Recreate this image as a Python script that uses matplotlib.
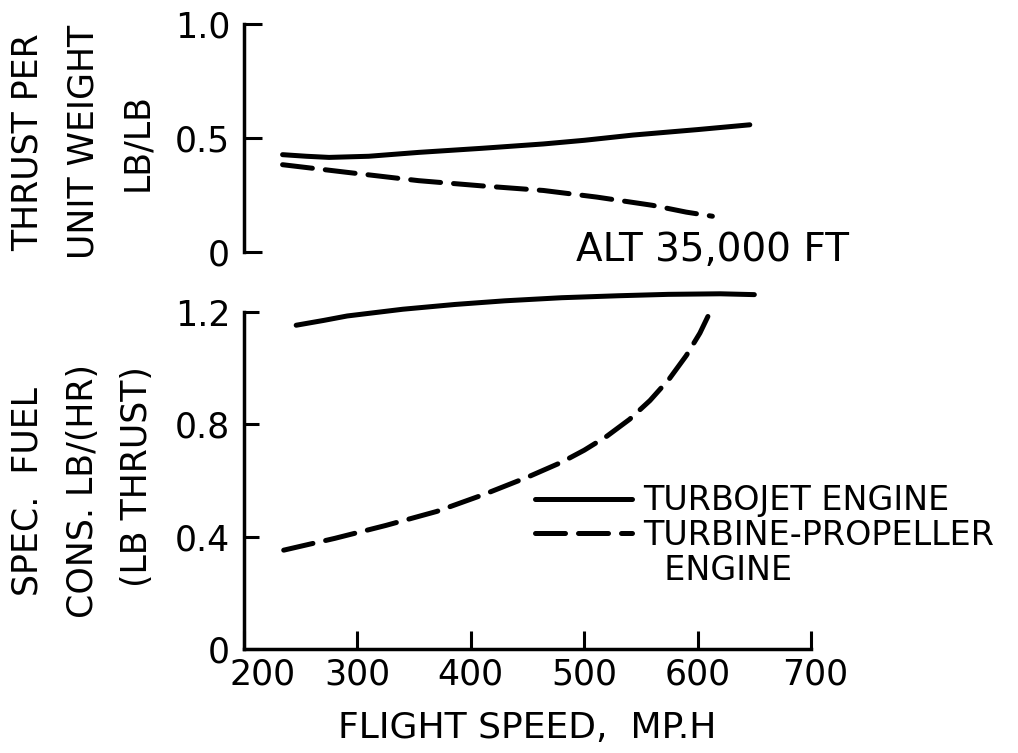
import numpy as np
import matplotlib
matplotlib.use('Agg')
import matplotlib.pyplot as plt
from matplotlib.transforms import ScaledTranslation

#%% values (speed in mph)
speed_jet_thrust = [234, 255, 275, 310, 354, 410, 464, 500, 543, 600, 646]
thrust_jet = [0.427, 0.420, 0.415, 0.420, 0.437, 0.455, 0.474, 0.490, 0.513, 0.537, 0.558]

speed_prop_thrust = [234, 290, 354, 410, 464, 511, 560, 590, 613]
thrust_prop = [0.383, 0.350, 0.313, 0.290, 0.270, 0.241, 0.205, 0.175, 0.157]

speed_jet_sfc = [246, 270, 291, 340, 386, 430, 480, 530, 574, 620, 650]
sfc_jet = [1.153, 1.170, 1.186, 1.210, 1.227, 1.240, 1.251, 1.258, 1.263, 1.265, 1.262]

speed_prop_sfc = [235, 280, 325, 370, 410, 450, 480, 500, 520, 540, 558, 575, 590, 602, 612]
sfc_prop = [0.352, 0.394, 0.440, 0.490, 0.548, 0.612, 0.665, 0.708, 0.758, 0.818, 0.885, 0.962, 1.045, 1.125, 1.209]

speed_ticks = [200, 300, 400, 500, 600, 700]
thrust_ticks = [0, 0.5, 1.0]
thrust_ticklabels = ['0', '0.5', '1.0']
sfc_ticks = [0, 0.4, 0.8, 1.2]
sfc_ticklabels = ['0', '0.4', '0.8', '1.2']

#%%
plt.rcParams['font.family'] = 'DejaVu Sans'
fig = plt.figure(figsize=(10.18, 7.53), dpi=100)

ax_top = fig.add_axes([0.2397, 0.6653, 0.557, 0.3028])
ax_bot = fig.add_axes([0.2397, 0.1381, 0.557, 0.4475])

solid = dict(color='black', lw=3.6, solid_capstyle='round', clip_on=False)
dashed = dict(color='black', lw=3.6, linestyle=(0, (6, 2.6)), dash_capstyle='round', clip_on=False)

ax_top.plot(speed_jet_thrust, thrust_jet, **solid)
ax_top.plot(speed_prop_thrust, thrust_prop, **dashed)

ax_bot.plot(speed_jet_sfc, sfc_jet, label='TURBOJET ENGINE', **solid)
ax_bot.plot(speed_prop_sfc, sfc_prop, label='TURBINE-PROPELLER', **dashed)

for ax in (ax_top, ax_bot):
    ax.set_xlim(200, 700)
    ax.spines['top'].set_visible(False)
    ax.spines['right'].set_visible(False)
    ax.spines['left'].set_linewidth(2.5)
    ax.spines['bottom'].set_linewidth(2.5)
    ax.tick_params(direction='in', width=2.2, length=11, labelsize=25, pad=10)

# top panel: only the vertical scale
ax_top.set_ylim(0, 1.0)
ax_top.spines['bottom'].set_visible(False)
ax_top.set_xticks([])
ax_top.set_yticks(thrust_ticks)
ax_top.set_yticklabels(thrust_ticklabels)
ax_top.tick_params(axis='y', length=13)

ax_bot.set_ylim(0, 1.2)
ax_bot.set_yticks(sfc_ticks)
ax_bot.set_yticklabels(sfc_ticklabels)
ax_bot.set_xticks(speed_ticks)
ax_bot.set_xticklabels([str(s) for s in speed_ticks])
ax_bot.tick_params(axis='x', length=13, pad=6)
ax_bot.set_xlabel('FLIGHT SPEED,  MP.H', fontsize=26, labelpad=14)

# 200 sits to the right of the corner so it clears the "0"
lbl = ax_bot.get_xticklabels()
lbl[0].set_transform(lbl[0].get_transform() + ScaledTranslation(13/72, 0, fig.dpi_scale_trans))
lbl[-1].set_transform(lbl[-1].get_transform() + ScaledTranslation(3/72, 0, fig.dpi_scale_trans))

# legend, second label wraps onto a third row without a handle
h, l = ax_bot.get_legend_handles_labels()
h.append(plt.Line2D([], [], linestyle='none'))
l.append('  ENGINE')
ax_bot.legend(h, l, loc='upper left', bbox_to_anchor=(0.5255, 0.357),
              bbox_transform=fig.transFigure, frameon=False, fontsize=24,
              handlelength=2.9, handletextpad=0.33, labelspacing=0.05,
              borderpad=0, borderaxespad=0)

fig.text(713/1018, 1-250/753, 'ALT 35,000 FT', fontsize=28, ha='center', va='center')

# y axis titles, one text per lettered line
ylab = dict(rotation=90, fontsize=25, ha='center', va='center')
fig.text(28/1018, 1-142/753, 'THRUST PER', **ylab)
fig.text(83/1018, 1-142/753, 'UNIT WEIGHT', **ylab)
fig.text(137/1018, 1-142/753, 'LB/LB', **ylab)
fig.text(28/1018, 1-492/753, 'SPEC.  FUEL', **ylab)
fig.text(83/1018, 1-491/753, 'CONS. LB/(HR)', **ylab)
fig.text(137/1018, 1-477/753, '(LB THRUST)', **ylab)

fig.savefig('out.png', dpi=100)
